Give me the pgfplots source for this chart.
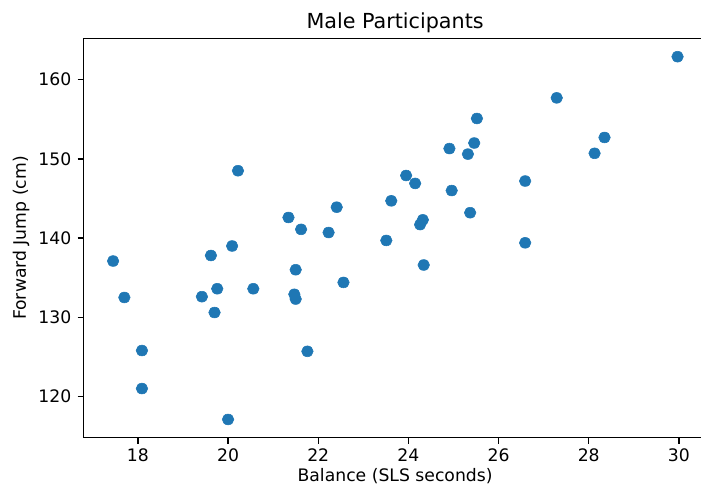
\documentclass[border=0pt]{standalone}
\usepackage{fontspec}
\setmainfont{DejaVu Sans}
\usepackage{pgfplots}
\pgfplotsset{compat=1.18}
\definecolor{tabblue}{HTML}{1F77B4}
\pgfplotstableread{
x y
20.22 148.5
21.34 142.6
21.62 141.1
22.41 143.9
22.23 140.7
23.62 144.7
23.51 139.7
29.97 162.9
27.29 157.7
25.52 155.1
24.91 151.3
25.46 152.0
25.32 150.6
28.35 152.7
28.13 150.7
23.95 147.9
24.15 146.9
24.96 146.0
26.59 147.2
24.32 142.3
24.26 141.7
25.37 143.2
26.59 139.4
24.34 136.6
17.45 137.1
17.70 132.5
19.62 137.8
20.09 139.0
19.76 133.6
19.42 132.6
19.70 130.6
20.56 133.6
21.50 136.0
21.47 132.9
21.50 132.3
22.56 134.4
18.09 125.8
18.09 121.0
20.00 117.1
21.76 125.7
}\datatable
\usepackage{pgfplotstable}
\begin{document}
\begin{tikzpicture}
\begin{axis}[
  scale only axis,
  width=448.9pt, height=287.4pt,
  xmin=16.79, xmax=30.62, ymin=114.8, ymax=165.2,
  xtick={18,20,...,30}, ytick={120,130,...,160},
  tick align=outside, xtick pos=left, ytick pos=left,
  major tick length=4.2pt,
  tick style={black, line width=1pt},
  axis line style={black, line width=1pt},
  /pgf/number format/assume math mode=true,
  ticklabel style={font=\fontsize{12.4}{14}\selectfont},
  xticklabel style={anchor=base, yshift=-13.2pt},
  yticklabel style={xshift=-0.9pt},
  title={Male Participants},
  every axis title/.style={at={(rel axis cs:0.5,1.0254)}, anchor=base, font=\fontsize{14.9}{17}\selectfont},
  xlabel={Balance (SLS seconds)},
  every axis x label/.style={at={(rel axis cs:0.5,-0.1090)}, anchor=base, font=\fontsize{12.4}{14}\selectfont},
  ylabel={Forward Jump (cm)},
  every axis y label/.style={at={(rel axis cs:-0.0922,0.5)}, rotate=90, anchor=base, font=\fontsize{12.4}{14}\selectfont},
]
\addplot[only marks, mark=*, mark size=3.9pt, color=tabblue, mark options={draw=tabblue, fill=tabblue, xscale=1.07}] table[x=x, y=y] {\datatable};
\coordinate (A) at (rel axis cs:0,0);
\coordinate (B) at (rel axis cs:0,1);
\end{axis}
\pgfresetboundingbox
\path[use as bounding box] ([shift={(-60pt,-34.1pt)}]A) rectangle ([shift={(444.7pt,27.7pt)}]B);
\end{tikzpicture}
\end{document}
